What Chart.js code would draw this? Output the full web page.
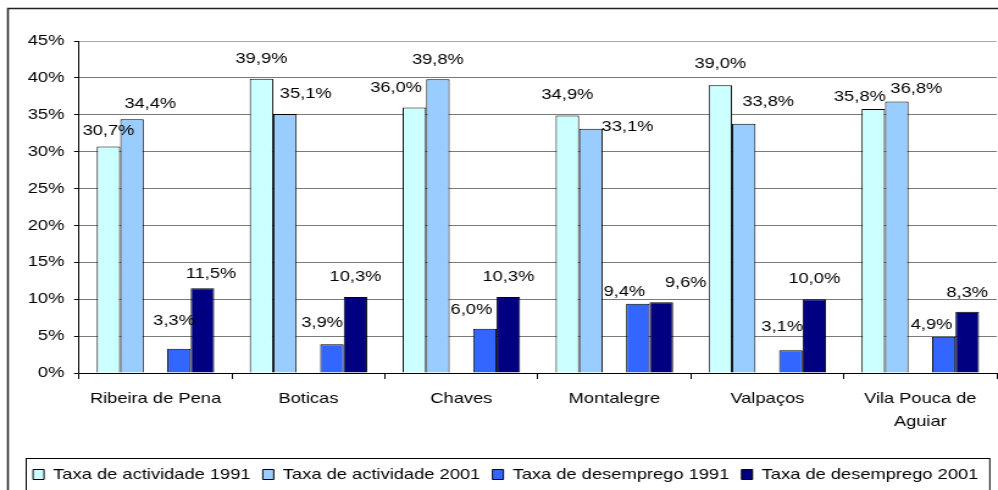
<!DOCTYPE html>
<html>
<head>
<meta charset="utf-8">
<script src="https://cdn.jsdelivr.net/npm/chart.js@4"></script>
<style>
  html, body { margin: 0; padding: 0; background: #fff; overflow: hidden; }
  /* the reference picture is stretched sideways, so the chart is too */
  #wrap { width: 818px; height: 492px; transform: scaleX(1.22); transform-origin: 0 0; }
</style>
</head>
<body>
<div id="wrap"><canvas id="grafico"></canvas></div>
<script>
// categorias e séries
const concelhos = ['Ribeira de Pena', 'Boticas', 'Chaves', 'Montalegre', 'Valpaços', ['Vila Pouca de', 'Aguiar']];
const actividade1991 = [30.7, 39.9, 36.0, 34.9, 39.0, 35.8];
const actividade2001 = [34.4, 35.1, 39.8, 33.1, 33.8, 36.8];
const desemprego1991 = [3.3, 3.9, 6.0, 9.4, 3.1, 4.9];
const desemprego2001 = [11.5, 10.3, 10.3, 9.6, 10.0, 8.3];
const vazio = [null, null, null, null, null, null];
const yMax = 45;
const yPasso = 5;

// pequenos ajustes das etiquetas (como no Excel, movidas à mão)
const ajusteX = [
  [0, 0, -15, 0, 0, -11],
  [15, 17, 0, 30, 20, 16],
  [],
  [-4, -8, -11, -11, -7, -10],
  [7, 0, 0, 20, 0, 0]
];
const ajusteY = [
  [4, 0, 0, -1, -1, 8],
  [5, 0, 0, 18, -2, 7],
  [],
  [-8, -1, 1, 8, -3, 8],
  [6, 0, 0, 1, 0, 1]
];
const legendaDesvio = 6;

Chart.defaults.font.family = '"Liberation Sans", Arial, sans-serif';
Chart.defaults.font.size = 15;
Chart.defaults.color = '#000';

const etiquetas = {
  id: 'etiquetas',
  afterDatasetsDraw(chart) {
    const ctx = chart.ctx;
    ctx.save();
    ctx.font = '15px "Liberation Sans", Arial, sans-serif';
    ctx.fillStyle = '#000';
    ctx.textAlign = 'center';
    ctx.textBaseline = 'middle';
    chart.data.datasets.forEach((ds, i) => {
      if (ds.label === '') return;
      chart.getDatasetMeta(i).data.forEach((bar, j) => {
        const v = ds.data[j];
        const texto = v.toFixed(1).replace('.', ',') + '%';
        ctx.fillText(texto, bar.x + (ajusteX[i][j] || 0), bar.y - 20 + (ajusteY[i][j] || 0));
      });
    });
    ctx.restore();
  }
};

const molduras = {
  id: 'molduras',
  afterLayout(chart) {
    // empurra a legenda um pouco para a direita, como no original
    chart.legend.left += legendaDesvio;
    chart.legend.right += legendaDesvio;
  },
  beforeDraw(chart) {
    const ctx = chart.ctx;
    ctx.save();
    ctx.strokeStyle = '#222';
    ctx.lineWidth = 1.5;
    ctx.strokeRect(6.5, 8.5, chart.width + 20, chart.height + 20);
    ctx.restore();
  },
  afterDraw(chart) {
    const lg = chart.legend;
    const caixas = lg.legendHitBoxes;
    if (!caixas || !caixas.length) return;
    const ultima = caixas[caixas.length - 1];
    const esq = caixas[0].left - 6;
    const dir = ultima.left + ultima.width + 9;
    const ctx = chart.ctx;
    ctx.save();
    ctx.strokeStyle = '#000';
    ctx.lineWidth = 1;
    ctx.strokeRect(Math.round(esq) + 0.5, Math.round(lg.top) + 1.5, dir - esq, 60);
    ctx.restore();
  }
};

new Chart(document.getElementById('grafico'), {
  type: 'bar',
  data: {
    labels: concelhos,
    datasets: [
      { label: 'Taxa de actividade 1991', data: actividade1991, backgroundColor: '#CCFFFF' },
      { label: 'Taxa de actividade 2001', data: actividade2001, backgroundColor: '#99CCFF' },
      { label: '', data: vazio, backgroundColor: 'rgba(0,0,0,0)' },
      { label: 'Taxa de desemprego 1991', data: desemprego1991, backgroundColor: '#3366FF' },
      { label: 'Taxa de desemprego 2001', data: desemprego2001, backgroundColor: '#000080' }
    ]
  },
  options: {
    responsive: true,
    maintainAspectRatio: false,
    animation: false,
    layout: { padding: { top: 41, right: 1, left: 0, bottom: 0 } },
    datasets: {
      bar: {
        borderColor: '#000',
        borderWidth: 1,
        categoryPercentage: 0.768,
        barPercentage: 1
      }
    },
    scales: {
      x: {
        grid: { display: true, drawOnChartArea: false, offset: true, tickLength: 6, tickColor: '#000' },
        border: { color: '#000', width: 1 },
        ticks: { padding: 9, maxRotation: 0, font: { size: 15, lineHeight: 1.5 } },
        afterFit: s => { s.height = 84; }
      },
      y: {
        min: 0,
        max: yMax,
        grid: {
          color: c => (c.tick && c.tick.value === yMax ? '#a8a8a8' : '#7a7a7a'),
          tickLength: 4,
          tickColor: '#000'
        },
        border: { color: '#000', width: 1 },
        ticks: { stepSize: yPasso, padding: 8, callback: v => v + '%' },
        afterFit: s => { s.width = 64.75; }
      }
    },
    plugins: {
      legend: {
        position: 'bottom',
        labels: {
          boxWidth: 9,
          boxHeight: 10,
          padding: 10,
          font: { size: 15 },
          filter: item => item.text !== ''
        }
      },
      tooltip: { enabled: false }
    }
  },
  plugins: [etiquetas, molduras]
});
</script>
</body>
</html>
